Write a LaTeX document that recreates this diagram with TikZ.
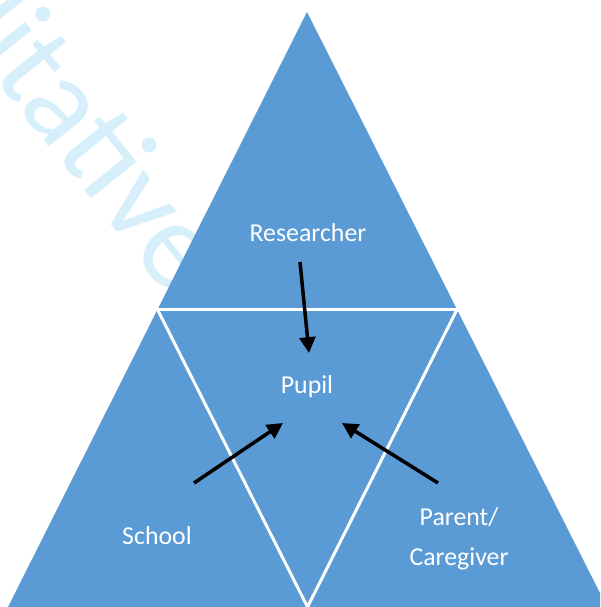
\documentclass[tikz,border=0pt]{standalone}
\usepackage{fontspec}
\setmainfont{Carlito}
\usetikzlibrary{arrows.meta}
\definecolor{triblue}{HTML}{5B9BD5}
\definecolor{wmark}{RGB}{214,239,251}
\tikzset{
  lbl/.style={text=white, font=\fontsize{14.7}{22.5}\selectfont, align=center, inner sep=0pt},
  link/.style={-{Triangle[length=9pt,width=9pt]}, line width=2pt, black},
  seam/.style={draw=white, line width=1.7pt, line join=miter},
}
\begin{document}
\begin{tikzpicture}[x=0.02cm, y=-0.02cm]
      \useasboundingbox (0,0) rectangle (600,607);
      \clip (0,0) rectangle (600,607);
      \node[anchor=base east, rotate=-51.3, text=wmark, inner sep=0pt,
            font=\fontsize{71}{71}\selectfont] (mark) at (170,298) {Qualitative};
      % corners and edge midpoints
      \coordinate (apex) at (307,12);
      \coordinate (left) at (8,607);
      \coordinate (right) at (607,607);
      \coordinate (midL) at (157.5,309.5);
      \coordinate (midR) at (457,309.5);
      \coordinate (midB) at (307.5,607);
      \fill[triblue] (apex) -- (left) -- (right) -- cycle;
      \draw[seam] (midL) -- (midR) -- (midB) -- cycle;
      \node[lbl, anchor=base] (researcher) at (308,242) {Researcher};
      \node[lbl, anchor=base] (pupil) at (307,393) {Pupil};
      \node[lbl, anchor=base] (school) at (157,544) {School};
      \node[lbl, anchor=center] (parent) at (459,539) {Parent/\\Caregiver};
      \coordinate (researcher-tail) at (300,262);
      \coordinate (researcher-head) at (309,353);
      \coordinate (school-tail) at (194,483);
      \coordinate (school-head) at (283,423);
      \coordinate (parent-tail) at (438,483);
      \coordinate (parent-head) at (342,423);
      \draw[link] (researcher-tail) -- (researcher-head);
      \draw[link] (school-tail) -- (school-head);
      \draw[link] (parent-tail) -- (parent-head);
\end{tikzpicture}
\end{document}
